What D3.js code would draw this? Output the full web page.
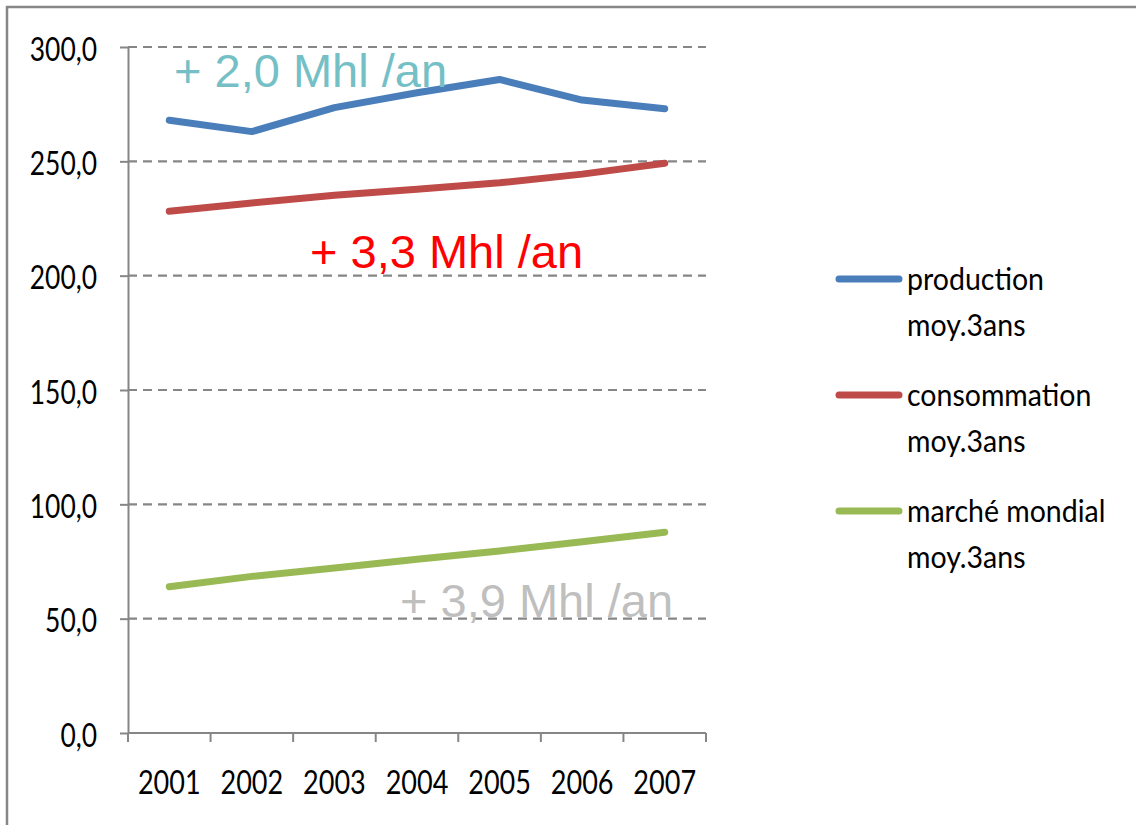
<!DOCTYPE html>
<html>
<head>
<meta charset="utf-8">
<script src="https://cdn.jsdelivr.net/npm/d3@7"></script>
<style>
  html, body { margin: 0; padding: 0; background: #fff; }
  svg { display: block; }
</style>
</head>
<body>
<svg id="chart" width="1136" height="825"></svg>
<script>
// Years on the category axis
const years = ["2001", "2002", "2003", "2004", "2005", "2006", "2007"];
// Three-year moving averages (Mhl)
const production = [268.0, 263.0, 273.5, 280.0, 285.8, 276.8, 273.0];
const consommation = [228.2, 231.8, 235.2, 237.8, 240.6, 244.4, 249.2];
const marcheMondial = [64.0, 68.5, 72.2, 76.0, 79.6, 83.6, 87.8];
// Value axis ticks
const yTicks = [0, 50, 100, 150, 200, 250, 300];
// Legend labels (two lines each)
const legendLabels = [
  ["production", "moy.3ans"],
  ["consommation", "moy.3ans"],
  ["marché mondial", "moy.3ans"]
];
// Trend annotations
const trendLabels = ["+ 2,0 Mhl /an", "+ 3,3 Mhl /an", "+ 3,9 Mhl /an"];

const series = [
  { values: production, color: "#4A7EBB" },
  { values: consommation, color: "#BE4B48" },
  { values: marcheMondial, color: "#98B954" }
];

const svg = d3.select("#chart");
const axisColor = "#868686";
const labelFont = "Lato, 'Liberation Sans', sans-serif";

// outer frame
svg.append("rect")
  .attr("x", 7).attr("y", 7)
  .attr("width", 1140).attr("height", 830)
  .attr("fill", "none")
  .attr("stroke", axisColor)
  .attr("stroke-width", 2.5);

const plot = { left: 128, right: 706, top: 47, bottom: 733 };

const x = d3.scaleBand().domain(years).range([plot.left, plot.right]).paddingInner(0).paddingOuter(0);
const y = d3.scaleLinear().domain([0, 300]).range([plot.bottom, plot.top]);

// text squeezed horizontally to mimic a condensed face
function squeezed(parent, str, px, py, opts) {
  const sx = opts.sx;
  return parent.append("text")
    .attr("transform", `translate(${px},${py}) scale(${sx},1)`)
    .attr("text-anchor", opts.anchor || "start")
    .attr("dominant-baseline", opts.baseline || "auto")
    .attr("font-family", opts.family || labelFont)
    .attr("font-size", opts.size)
    .attr("fill", opts.fill || "#000")
    .text(str);
}

// dashed gridlines (excluding zero)
svg.append("g")
  .selectAll("line")
  .data(yTicks.filter(d => d > 0))
  .join("line")
  .attr("x1", plot.left).attr("x2", plot.right)
  .attr("y1", d => y(d)).attr("y2", d => y(d))
  .attr("stroke", axisColor)
  .attr("stroke-width", 2.2)
  .attr("stroke-dasharray", "9,6");

// y axis
const yAxis = svg.append("g")
  .attr("transform", `translate(${plot.left},0)`)
  .call(d3.axisLeft(y).tickValues(yTicks).tickSize(8).tickSizeOuter(0).tickFormat(""));
yAxis.selectAll("path, line").attr("stroke", axisColor).attr("stroke-width", 2);

const fmt = v => d3.format(".1f")(v).replace(".", ",");
yTicks.forEach(v => {
  squeezed(svg, fmt(v), 97, y(v) + 1, { sx: 0.8, anchor: "end", baseline: "central", size: 33 });
});

// x axis with ticks at category boundaries
const xAxisG = svg.append("g").attr("transform", `translate(0,${plot.bottom})`);
xAxisG.append("line")
  .attr("x1", plot.left).attr("x2", plot.right)
  .attr("stroke", axisColor).attr("stroke-width", 2);
const boundaries = years.map(d => x(d)).concat([x(years[years.length - 1]) + x.bandwidth()]);
xAxisG.selectAll("line.tick")
  .data(boundaries)
  .join("line")
  .attr("class", "tick")
  .attr("x1", d => d).attr("x2", d => d)
  .attr("y1", 0).attr("y2", 9)
  .attr("stroke", axisColor).attr("stroke-width", 2);

years.forEach(yr => {
  squeezed(svg, yr, x(yr) + x.bandwidth() / 2, 781, { sx: 0.82, anchor: "middle", baseline: "central", size: 33 });
});

// series lines
const line = d3.line()
  .x((d, i) => x(years[i]) + x.bandwidth() / 2)
  .y(d => y(d));

svg.append("g")
  .selectAll("path")
  .data(series)
  .join("path")
  .attr("d", d => line(d.values))
  .attr("fill", "none")
  .attr("stroke", d => d.color)
  .attr("stroke-width", 7)
  .attr("stroke-linejoin", "round")
  .attr("stroke-linecap", "round");

// trend annotations
const trendStyle = [
  { x: 174, y: 87, fill: "#74C0C6" },
  { x: 310, y: 268, fill: "#FF0000" },
  { x: 400, y: 617, fill: "#BFBFBF" }
];
trendLabels.forEach((t, i) => {
  svg.append("text")
    .attr("x", trendStyle[i].x)
    .attr("y", trendStyle[i].y)
    .attr("font-family", "'Liberation Sans', Arial, sans-serif")
    .attr("font-size", 47)
    .attr("fill", trendStyle[i].fill)
    .text(t);
});

// legend
const legend = svg.append("g");
legendLabels.forEach((lab, i) => {
  const ly = 279 + i * 116;
  legend.append("line")
    .attr("x1", 839).attr("x2", 899)
    .attr("y1", ly).attr("y2", ly)
    .attr("stroke", series[i].color)
    .attr("stroke-width", 7)
    .attr("stroke-linecap", "round");
  squeezed(legend, lab[0], 907, ly + 11, { sx: 0.92, size: 31 });
  squeezed(legend, lab[1], 907, ly + 57, { sx: 0.92, size: 31 });
});
</script>
</body>
</html>
